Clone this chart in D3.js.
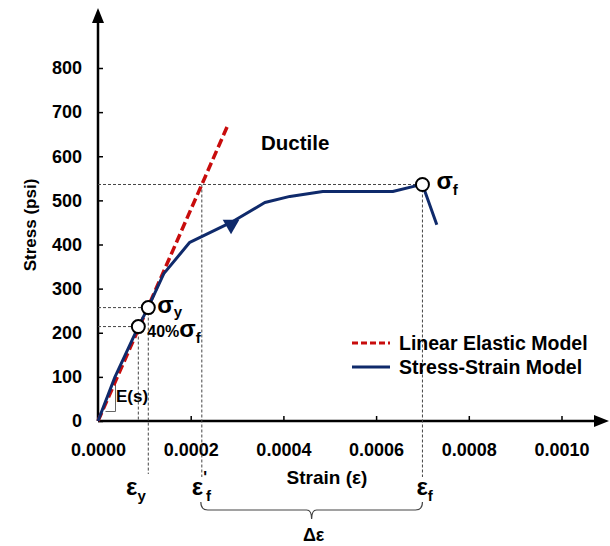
<!DOCTYPE html>
<html>
<head>
<meta charset="utf-8">
<script src="https://cdn.jsdelivr.net/npm/d3@7"></script>
<style>
  body { margin: 0; background: #fff; }
  svg { font-family: "Liberation Sans", Arial, sans-serif; font-weight: bold; }
</style>
</head>
<body>
<svg id="chart" width="610" height="546"></svg>
<script>
// stress-strain curve
const strain = [0, 0.0000367, 0.0000841, 0.000108, 0.000142, 0.000198, 0.000287, 0.00036, 0.000414, 0.000485, 0.000636, 0.00069, 0.0007, 0.000731];
const stress = [0, 100, 207, 257, 334, 405, 450, 495, 509, 520, 520, 534, 536, 445];

// linear elastic model
const elasticStrain = [0, 0.00028];
const elasticStress = [0, 670];

// marked points
const pointNames = ["sigmaY", "fortyPct", "sigmaF"];
const pointStrain = [0.0001085, 0.000087, 0.0007];
const pointStress = [257, 214, 536];
const strainFPrime = 0.000224;

const xTicks = [0, 0.0002, 0.0004, 0.0006, 0.0008, 0.001];
const yTicks = [0, 100, 200, 300, 400, 500, 600, 700, 800];

const red = "#c80c0c";
const navy = "#0f2a6b";

const svg = d3.select("#chart");
const x = d3.scaleLinear().domain([0, 0.001]).range([98, 561.5]);
const y = d3.scaleLinear().domain([0, 800]).range([421, 68]);
const fmt = d3.format(".4f");

/* ------- AXES -------*/
const xAxis = svg.append("g")
  .attr("transform", `translate(0,${y(0)})`)
  .call(d3.axisBottom(x).tickValues(xTicks).tickSizeInner(-5).tickSizeOuter(0).tickPadding(22).tickFormat(fmt));
xAxis.select(".domain").attr("d", `M${x(0)},0H600`);

const yAxis = svg.append("g")
  .attr("transform", `translate(${x(0)},0)`)
  .call(d3.axisLeft(y).tickValues(yTicks).tickSizeInner(-5).tickSizeOuter(0).tickPadding(16));
yAxis.select(".domain").attr("d", `M0,${y(0)}V18`);

svg.selectAll(".domain").attr("stroke", "#000").attr("stroke-width", 2.5);
svg.selectAll(".tick line").attr("stroke", "#000").attr("stroke-width", 1.5);
svg.selectAll(".tick text")
  .attr("fill", "#000")
  .attr("font-size", 18)
  .attr("font-weight", "bold")
  .attr("font-family", "Liberation Sans, Arial, sans-serif");

// arrow heads
svg.append("path").attr("d", `M609,${y(0)}l-15,-6v12z`).attr("fill", "#000");
svg.append("path").attr("d", `M${x(0)},8l-6,15h12z`).attr("fill", "#000");

svg.append("text")
  .attr("x", 327).attr("y", 484)
  .attr("text-anchor", "middle").attr("font-size", 19)
  .text("Strain (ε)");

svg.append("text")
  .attr("transform", "translate(36,225) rotate(-90)")
  .attr("text-anchor", "middle").attr("font-size", 17)
  .text("Stress (psi)");

/* ------- GUIDE LINES -------*/
const guides = svg.append("g")
  .attr("stroke", "#444").attr("stroke-width", 1).attr("stroke-dasharray", "3,2").attr("fill", "none");

const pt = name => {
  const i = pointNames.indexOf(name);
  return [x(pointStrain[i]), y(pointStress[i])];
};
const [syX, syY] = pt("sigmaY");
const [fpX, fpY] = pt("fortyPct");
const [sfX, sfY] = pt("sigmaF");

guides.append("path").attr("d", `M${x(0)},${syY}H${syX}M${syX},${syY}V474`);
guides.append("path").attr("d", `M${x(0)},${fpY}H${fpX}M${fpX},${fpY}V${y(0)}`);
guides.append("path").attr("d", `M${x(0)},${sfY}H${sfX}M${sfX},${sfY}V477`);
guides.append("path").attr("d", `M${x(strainFPrime)},${sfY}V477`);

// E(s) slope box
svg.append("path")
  .attr("d", "M105.5,411.5H115.5V383")
  .attr("fill", "none").attr("stroke", "#666").attr("stroke-width", 1);

/* ------- MODELS -------*/
const line = d3.line().x(d => x(d[0])).y(d => y(d[1]));

svg.append("path")
  .datum(d3.zip(elasticStrain, elasticStress))
  .attr("d", line)
  .attr("fill", "none").attr("stroke", red).attr("stroke-width", 3.5)
  .attr("stroke-dasharray", "9,4");

svg.append("path")
  .datum(d3.zip(strain, stress))
  .attr("d", line)
  .attr("fill", "none").attr("stroke", navy).attr("stroke-width", 3)
  .attr("stroke-linejoin", "round");

// direction marker on the curve
svg.append("path")
  .attr("d", d3.symbol(d3.symbolTriangle, 120))
  .attr("transform", `translate(${x(0.000287)},${y(445)}) rotate(180)`)
  .attr("fill", navy);

svg.selectAll("circle.pt")
  .data(pointNames)
  .enter()
  .append("circle")
  .attr("class", "pt")
  .attr("cx", d => pt(d)[0])
  .attr("cy", d => pt(d)[1])
  .attr("r", 6.5)
  .attr("fill", "#fff").attr("stroke", "#000").attr("stroke-width", 2);

/* ------- LABELS -------*/
const label = (xp, yp, main, sub, size, subSize, dy) => {
  const t = svg.append("text").attr("x", xp).attr("y", yp).attr("font-size", size);
  t.append("tspan").text(main);
  t.append("tspan").attr("font-size", subSize).attr("dy", dy).text(sub);
  return t;
};

label(syX + 9, syY + 5, "σ", "y", 24, 15, 4);
label(sfX + 14, sfY + 5, "σ", "f", 24, 15, 6);
const t40 = svg.append("text").attr("x", fpX + 9).attr("y", fpY + 10).attr("font-size", 16);
t40.append("tspan").text("40%");
t40.append("tspan").attr("font-size", 24).text("σ");
t40.append("tspan").attr("font-size", 15).attr("dy", 6).text("f");

svg.append("text").attr("x", 116).attr("y", 402).attr("font-size", 17).text("E(s)");

svg.append("text").attr("x", 261).attr("y", 150).attr("font-size", 20.5).text("Ductile");

label(126, 495, "ε", "y", 24, 15, 6);
label(sfX - 6, 495, "ε", "f", 24, 15, 6);
const tfp = svg.append("text").attr("x", x(strainFPrime) - 10).attr("y", 495).attr("font-size", 24);
tfp.append("tspan").text("ε");
tfp.append("tspan").attr("font-size", 16).attr("dy", -12).text("'");
tfp.append("tspan").attr("font-size", 15).attr("dy", 18).attr("dx", -1).text("f");

// brace for delta epsilon
const bl = x(strainFPrime) - 1, br = sfX, bm = (bl + br) / 2;
svg.append("path")
  .attr("d", `M${bl},502Q${bl},510 ${bl + 7},510H${bm - 5}Q${bm},510 ${bm},519Q${bm},510 ${bm + 5},510H${br - 7}Q${br},510 ${br},502`)
  .attr("fill", "none").attr("stroke", "#444").attr("stroke-width", 1.2);

svg.append("text").attr("x", bm + 2).attr("y", 541)
  .attr("text-anchor", "middle").attr("font-size", 18).text("Δε");

/* ------- LEGEND -------*/
const legendItems = ["Linear Elastic Model", "Stress-Strain Model"];
const legend = svg.append("g").attr("transform", "translate(352,343)");
legend.selectAll("line")
  .data(legendItems)
  .enter()
  .append("line")
  .attr("x1", 0).attr("x2", 38)
  .attr("y1", (d, i) => i * 24).attr("y2", (d, i) => i * 24)
  .attr("stroke", (d, i) => i ? navy : red)
  .attr("stroke-width", 3)
  .attr("stroke-dasharray", (d, i) => i ? null : "6,3");
legend.selectAll("text")
  .data(legendItems)
  .enter()
  .append("text")
  .attr("x", 47)
  .attr("y", (d, i) => i * 24 + 6.5)
  .attr("font-size", 19.5)
  .text(d => d);
</script>
</body>
</html>
